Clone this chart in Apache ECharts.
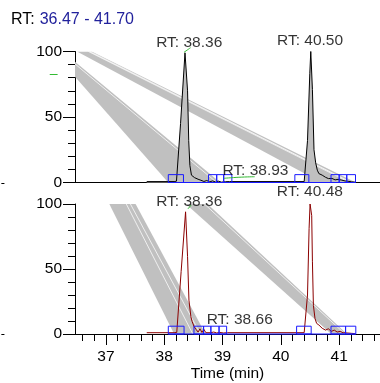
<!DOCTYPE html>
<html>
<head>
<meta charset="utf-8">
<script src="https://cdn.jsdelivr.net/npm/echarts@6/dist/echarts.min.js"></script>
<style>html,body{margin:0;padding:0;background:#fff}#c{width:380px;height:383px}</style>
</head>
<body>
<div id="c"></div>
<script>
// ---- data ----
const xMin = 36.47, xMax = 41.70;
const xTickLabels = [37, 38, 39, 40, 41];
const xMinorTicks = [36.6, 36.8, 37.2, 37.4, 37.6, 37.8, 38.2, 38.4, 38.6, 38.8, 39.2, 39.4, 39.6, 39.8, 40.2, 40.4, 40.6, 40.8, 41.2, 41.4, 41.6];

const topTime = [37.70, 38.17, 38.21, 38.28, 38.356, 38.40, 38.42, 38.44, 38.467, 38.52, 38.58, 38.63, 38.68, 38.73, 38.78, 38.83, 38.88, 38.93, 38.98, 39.05, 39.12, 40.40, 40.417, 40.457, 40.496, 40.513, 40.541, 40.568, 40.597, 40.625, 40.652, 40.709, 40.765, 40.815, 40.877, 40.93, 40.98, 41.045, 41.10, 41.15, 41.213, 41.27];
const topIntensity = [0.7, 0.7, 1, 45, 99, 70, 32, 13, 5.6, 3.7, 2.5, 1.7, 0.8, 1.5, 0.5, 1.2, 0.4, 1.0, 0.3, 0.6, 0.7, 0.7, 1, 32, 83, 100, 71, 25, 15, 9.4, 6.8, 5.6, 4, 3.0, 3.1, 2, 2.4, 1.8, 1.2, 1.0, 0.5, 0.3];

const botTime = [37.70, 38.17, 38.215, 38.29, 38.366, 38.40, 38.424, 38.457, 38.479, 38.513, 38.546, 38.58, 38.613, 38.647, 38.681, 38.714, 38.748, 38.798, 38.849, 38.90, 38.95, 39.017, 39.084, 40.40, 40.429, 40.457, 40.484, 40.501, 40.529, 40.541, 40.558, 40.585, 40.613, 40.652, 40.709, 40.765, 40.815, 40.866, 40.916, 40.966, 41.017, 41.067, 41.134, 41.213, 41.27];
const botIntensity = [1, 1, 1.2, 48, 94, 59.5, 26, 13.3, 9.5, 5.6, 3.5, 1.5, 4, 1.2, 3.5, 1, 2.5, 1, 1.5, 0.8, 1.2, 0.8, 1, 1, 1.2, 30, 81, 100, 91, 56, 22, 12, 8.2, 6.9, 4.4, 3, 4, 2, 3, 1.5, 2, 1, 0.8, 0.5, 0.3];

const topBoxStart = [38.07, 38.76, 38.90, 39.02, 40.24, 40.86, 41.00, 41.13];
const topBoxEnd   = [38.33, 38.90, 39.02, 39.16, 40.48, 41.00, 41.13, 41.28];
const botBoxStart = [38.07, 38.51, 38.675, 38.80, 38.94, 40.27, 40.86, 41.11];
const botBoxEnd   = [38.34, 38.675, 38.80, 38.94, 39.07, 40.52, 41.11, 41.285];

const topLabelRT = [38.36, 40.50, 38.93];
const topLabelHeight = [99, 100, 0];
const botLabelRT = [38.36, 40.48, 38.66];
const botLabelHeight = [94, 100, 0];

// grey bands (time, intensity vertices)
const topBandUpperT = [36.504, 36.756, 41.285, 40.696];
const topBandUpperI = [100, 100, 0, 0];
const topBandLowerT = [36.47, 38.962, 38.069, 36.47];
const topBandLowerI = [92.2, 0, 0, 80.8];
const botBandLeftT = [37.059, 37.509, 38.709, 38.170];
const botBandLeftI = [100, 100, 0, 0];
const botBandRightT = [38.372, 38.743, 41.133, 40.864];
const botBandRightI = [100, 100, 0, 0];

// lighter streaks inside bands
const topStreaks = [[[36.70, 100], [41.18, 0]], [[36.725, 100], [41.21, 0]], [[36.47, 90.5], [38.90, 0]]];
const botStreaks = [[[37.35, 100], [38.49, 0]], [[37.42, 100], [38.62, 0]], [[38.69, 100], [41.10, 0]]];

// leader lines (green)
const topLeaders = [[[38.339, 99.4], [38.452, 102.9]], [[39.024, 3.2], [39.28, 4.0], [39.551, 4.4]]];
const botLeaders = [[[38.406, 96.2], [38.462, 99.2]]];

// small stray marks outside the plot area: [grid, x0, y0, x1, y1, colour]
const strayMarks = [[0, 36.037, 82.6, 36.172, 82.6, '#33bb33'], [0, 35.207, 0, 35.26, 0, '#000'], [1, 35.207, 0, 35.26, 0, '#000']];

// ---- chart ----
const FONT = '"Liberation Sans", Arial, sans-serif';
const FS = 15.5;
const GREY = '#c0c0c0';
const BLUE = '#1a1aff';
const GREEN = '#33bb33';
const RED = '#8b0000';

function band(xi, yi, T, I) {
  return {
    type: 'custom', xAxisIndex: xi, yAxisIndex: yi, clip: true, z: 1, silent: true,
    data: [[T[0], I[0]]],
    renderItem: function (params, api) {
      const pts = T.map((t, i) => api.coord([t, I[i]]));
      return { type: 'polygon', shape: { points: pts }, style: { fill: GREY, stroke: null } };
    }
  };
}
function streak(xi, yi, d) {
  return { type: 'line', xAxisIndex: xi, yAxisIndex: yi, data: d, symbol: 'none', z: 1.5, silent: true,
    lineStyle: { color: '#ffffff', width: 1, opacity: 0.75 } };
}
function leader(xi, yi, d) {
  return { type: 'line', xAxisIndex: xi, yAxisIndex: yi, data: d, symbol: 'none', clip: false, z: 5, silent: true,
    smooth: true, lineStyle: { color: GREEN, width: 1 } };
}
function boxes(xi, yi, S, E) {
  return {
    type: 'custom', xAxisIndex: xi, yAxisIndex: yi, z: 4, silent: true,
    dimensions: ['s', 'e'], encode: { x: [0, 1] },
    data: S.map((s, i) => [s, E[i]]),
    renderItem: function (params, api) {
      const p0 = api.coord([api.value(0), 0]);
      const p1 = api.coord([api.value(1), 6]);
      return { type: 'rect', shape: { x: p0[0], y: p1[1], width: p1[0] - p0[0], height: p0[1] - p1[1] },
        style: { fill: null, stroke: BLUE, lineWidth: 1 } };
    }
  };
}
function baseline(xi, yi, S, E) {
  return { type: 'line', xAxisIndex: xi, yAxisIndex: yi, data: [[S[0], 0], [E[E.length - 1], 0]], symbol: 'none', z: 4,
    clip: false, silent: true, lineStyle: { color: BLUE, width: 1 } };
}
function labels(xi, yi, RT, H, offsets) {
  return {
    type: 'scatter', xAxisIndex: xi, yAxisIndex: yi, symbolSize: 1, clip: false, z: 6, silent: true,
    itemStyle: { color: 'rgba(0,0,0,0)' },
    data: RT.map((rt, i) => ({
      value: [rt, H[i]],
      label: { show: true, position: 'inside', offset: offsets[i], formatter: 'RT: ' + rt.toFixed(2),
        color: '#000', fontSize: FS, fontFamily: FONT }
    }))
  };
}
function yAx(gi) {
  return {
    gridIndex: gi, type: 'value', min: 0, max: 100, interval: 50,
    axisLine: { show: true, lineStyle: { color: '#000', width: 1 } },
    axisTick: { show: true, length: 12, lineStyle: { color: '#000' } },
    minorTick: { show: true, splitNumber: 5, length: 7, lineStyle: { color: '#000' } },
    axisLabel: { margin: 13, color: '#000', fontSize: FS, fontFamily: FONT },
    splitLine: { show: false }, minorSplitLine: { show: false }
  };
}

const option = {
  animation: false,
  backgroundColor: '#fff',
  title: {
    text: '{a|RT:} {b|' + xMin.toFixed(2) + ' - ' + xMax.toFixed(2) + '}',
    left: 6, top: 6,
    textStyle: { fontWeight: 'normal', rich: {
      a: { color: '#000', fontSize: 16, fontWeight: 'normal', fontFamily: FONT },
      b: { color: '#22229c', fontSize: 16, fontWeight: 'normal', fontFamily: FONT }
    } }
  },
  grid: [
    { left: 75, right: -5.7, top: 51.5, height: 131 },
    { left: 75, right: -5.7, top: 204, height: 130 }
  ],
  xAxis: [
    { gridIndex: 0, type: 'value', min: xMin, max: xMax,
      axisLine: { lineStyle: { color: '#000' } }, axisTick: { show: false }, axisLabel: { show: false }, splitLine: { show: false } },
    { gridIndex: 1, type: 'value', min: xMin, max: xMax, position: 'bottom',
      axisLine: { lineStyle: { color: '#000' } },
      axisTick: { show: true, customValues: xMinorTicks, length: 7, lineStyle: { color: '#000' } },
      axisLabel: { customValues: xTickLabels, margin: 15, color: '#000', fontSize: FS, fontFamily: FONT },
      splitLine: { show: false } },
    { gridIndex: 1, type: 'value', min: xMin, max: xMax, position: 'bottom',
      axisLine: { show: false },
      axisTick: { show: true, customValues: xTickLabels, length: 11, lineStyle: { color: '#000' } },
      axisLabel: { show: false }, splitLine: { show: false },
      name: 'Time (min)', nameLocation: 'middle', nameGap: 32,
      nameTextStyle: { color: '#000', fontSize: FS, fontFamily: FONT } }
  ],
  yAxis: [yAx(0), yAx(1)],
  series: [
    band(0, 0, topBandUpperT, topBandUpperI),
    band(0, 0, topBandLowerT, topBandLowerI),
    band(1, 1, botBandLeftT, botBandLeftI),
    band(1, 1, botBandRightT, botBandRightI),
    ...topStreaks.map(d => streak(0, 0, d)),
    ...botStreaks.map(d => streak(1, 1, d)),
    { type: 'line', xAxisIndex: 0, yAxisIndex: 0, data: topTime.map((t, i) => [t, topIntensity[i]]), symbol: 'none', z: 3,
      lineStyle: { color: '#000', width: 1 }, areaStyle: { color: GREY, opacity: 1, origin: 0 } },
    { type: 'line', xAxisIndex: 1, yAxisIndex: 1, data: botTime.map((t, i) => [t, botIntensity[i]]), symbol: 'none', z: 3,
      lineStyle: { color: RED, width: 1 } },
    boxes(0, 0, topBoxStart, topBoxEnd),
    boxes(1, 1, botBoxStart, botBoxEnd),
    baseline(0, 0, topBoxStart, topBoxEnd),
    baseline(1, 1, botBoxStart, botBoxEnd),
    ...topLeaders.map(d => leader(0, 0, d)),
    ...botLeaders.map(d => leader(1, 1, d)),
    labels(0, 0, topLabelRT, topLabelHeight, [[4, -10], [0, -11], [37, -11.5]]),
    labels(1, 1, botLabelRT, botLabelHeight, [[4, -10], [1, -12], [37, -14]])
  ]
};
const chart = echarts.init(document.getElementById('c'), null, { renderer: 'canvas' });
chart.setOption(option);

// stray marks placed through the axes' own scales
const strayGraphics = strayMarks.map(m => {
  const a = chart.convertToPixel({ gridIndex: m[0] }, [m[1], m[2]]);
  const b = chart.convertToPixel({ gridIndex: m[0] }, [m[3], m[4]]);
  return { type: 'line', silent: true, z: 10,
    shape: { x1: a[0], y1: Math.round(a[1]) + 0.5, x2: Math.max(b[0], a[0] + 3), y2: Math.round(b[1]) + 0.5 },
    style: { stroke: m[5], lineWidth: 1 } };
});
chart.setOption({ graphic: strayGraphics });
</script>
</body>
</html>
